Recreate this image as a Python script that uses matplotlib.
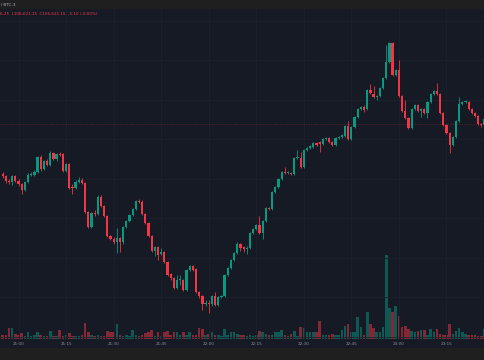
import matplotlib
matplotlib.use("Agg")
import matplotlib.pyplot as plt
import numpy as np
import pandas as pd

# 1-minute candles (USD)
opens = [106571, 106569, 106564, 106563, 106569, 106564, 106561, 106555, 106563, 106570,
         106570, 106573, 106588, 106576, 106584, 106580, 106592, 106586, 106591, 106591,
         106574, 106581, 106558, 106557, 106563, 106565, 106562, 106533, 106518, 106532,
         106531, 106548, 106539, 106529, 106509, 106506, 106503, 106507, 106503, 106518,
         106524, 106530, 106536, 106544, 106543, 106531, 106522, 106509, 106494, 106498,
         106491, 106493, 106483, 106471, 106467, 106457, 106465, 106465, 106455, 106475,
         106479, 106476, 106453, 106449, 106441, 106442, 106441, 106449, 106440, 106448,
         106449, 106470, 106477, 106485, 106492, 106501, 106498, 106496, 106497, 106512,
         106516, 106520, 106512, 106524, 106537, 106536, 106553, 106558, 106566, 106573,
         106572, 106572, 106571, 106587, 106587, 106578, 106595, 106597, 106598, 106602,
         106603, 106601, 106606, 106607, 106603, 106600, 106607, 106608, 106609, 106619,
         106606, 106618, 106628, 106636, 106638, 106636, 106655, 106651, 106648, 106649,
         106657, 106667, 106683, 106702, 106670, 106675, 106649, 106634, 106627, 106617,
         106636, 106640, 106634, 106636, 106632, 106643, 106651, 106654, 106651, 106632,
         106620, 106612, 106600, 106608, 106624, 106641, 106643, 106643, 106636, 106632,
         106629, 106621, 106620, 106626]
highs = [106573, 106570, 106566, 106570, 106570, 106566, 106562, 106564, 106572, 106573,
         106575, 106589, 106590, 106585, 106586, 106594, 106593, 106592, 106593, 106592,
         106582, 106582, 106561, 106565, 106568, 106567, 106563, 106534, 106533, 106535,
         106550, 106550, 106540, 106530, 106510, 106508, 106517, 106508, 106519, 106525,
         106531, 106537, 106545, 106546, 106545, 106532, 106523, 106510, 106499, 106499,
         106497, 106494, 106484, 106472, 106468, 106470, 106470, 106466, 106476, 106480,
         106480, 106477, 106454, 106450, 106445, 106445, 106450, 106453, 106449, 106450,
         106471, 106478, 106486, 106493, 106503, 106502, 106499, 106499, 106513, 106517,
         106521, 106529, 106525, 106538, 106538, 106554, 106559, 106567, 106574, 106578,
         106574, 106573, 106588, 106595, 106593, 106596, 106598, 106600, 106603, 106603,
         106604, 106607, 106608, 106608, 106604, 106608, 106609, 106611, 106620, 106624,
         106619, 106629, 106637, 106639, 106640, 106656, 106661, 106659, 106650, 106658,
         106668, 106700, 106703, 106703, 106676, 106685, 106650, 106645, 106628, 106637,
         106641, 106641, 106637, 106637, 106644, 106652, 106655, 106662, 106652, 106633,
         106621, 106613, 106609, 106625, 106648, 106644, 106645, 106644, 106637, 106633,
         106630, 106622, 106627, 106627]
lows = [106567, 106562, 106561, 106560, 106563, 106559, 106551, 106554, 106562, 106569,
        106569, 106572, 106574, 106575, 106579, 106579, 106585, 106584, 106589, 106573,
        106573, 106556, 106551, 106556, 106562, 106561, 106532, 106517, 106517, 106529,
        106530, 106538, 106528, 106508, 106505, 106501, 106492, 106493, 106501, 106517,
        106523, 106529, 106535, 106542, 106530, 106521, 106508, 106493, 106489, 106485,
        106490, 106482, 106469, 106465, 106456, 106456, 106460, 106454, 106454, 106474,
        106474, 106452, 106447, 106435, 106439, 106432, 106439, 106439, 106439, 106447,
        106448, 106469, 106476, 106484, 106491, 106494, 106493, 106491, 106496, 106511,
        106515, 106511, 106506, 106523, 106535, 106535, 106552, 106557, 106565, 106571,
        106571, 106570, 106570, 106586, 106577, 106577, 106594, 106596, 106597, 106599,
        106593, 106600, 106605, 106602, 106599, 106599, 106606, 106607, 106608, 106605,
        106605, 106617, 106627, 106635, 106633, 106635, 106651, 106647, 106645, 106648,
        106656, 106666, 106682, 106669, 106669, 106648, 106633, 106626, 106616, 106616,
        106635, 106633, 106628, 106631, 106627, 106642, 106650, 106650, 106631, 106619,
        106611, 106592, 106599, 106607, 106623, 106640, 106642, 106635, 106631, 106628,
        106620, 106618, 106619, 106620]
closes = [106569, 106564, 106563, 106569, 106564, 106561, 106555, 106563, 106570, 106571,
          106573, 106588, 106576, 106584, 106580, 106592, 106586, 106591, 106590, 106574,
          106581, 106557, 106557, 106563, 106565, 106562, 106533, 106518, 106532, 106531,
          106548, 106539, 106529, 106509, 106506, 106503, 106507, 106503, 106518, 106524,
          106530, 106536, 106544, 106543, 106531, 106522, 106509, 106494, 106498, 106490,
          106493, 106483, 106470, 106467, 106457, 106465, 106465, 106455, 106475, 106479,
          106475, 106453, 106449, 106441, 106442, 106441, 106449, 106440, 106448, 106449,
          106470, 106477, 106485, 106492, 106501, 106497, 106496, 106497, 106512, 106516,
          106520, 106512, 106524, 106537, 106536, 106553, 106558, 106566, 106573, 106572,
          106573, 106571, 106587, 106588, 106578, 106595, 106597, 106599, 106602, 106600,
          106601, 106606, 106607, 106603, 106600, 106607, 106608, 106610, 106619, 106606,
          106618, 106628, 106636, 106638, 106635, 106655, 106652, 106648, 106649, 106657,
          106667, 106683, 106702, 106670, 106675, 106649, 106634, 106627, 106617, 106636,
          106640, 106634, 106636, 106632, 106643, 106651, 106654, 106651, 106632, 106620,
          106612, 106600, 106608, 106624, 106641, 106643, 106644, 106636, 106632, 106629,
          106621, 106620, 106626, 106621]
volumes = [4, 4, 11, 11, 5, 4, 6, 3, 7, 3, 4, 7, 4, 3, 3, 8, 3, 3, 9, 3,
           4, 6, 3, 3, 3, 4, 16, 7, 4, 3, 4, 3, 3, 8, 7, 7, 15, 4, 3, 4,
           3, 9, 4, 3, 4, 6, 7, 9, 3, 7, 3, 7, 8, 4, 7, 7, 4, 7, 4, 7,
           4, 4, 11, 10, 4, 5, 7, 4, 4, 3, 10, 4, 7, 7, 5, 4, 4, 3, 4, 3,
           4, 8, 7, 5, 4, 4, 7, 7, 9, 4, 3, 5, 8, 3, 12, 11, 7, 7, 7, 7,
           18, 4, 4, 4, 5, 4, 4, 9, 13, 15, 7, 7, 22, 12, 4, 27, 15, 11, 7, 7,
           12, 84, 31, 27, 33, 23, 12, 13, 10, 8, 7, 8, 9, 9, 4, 10, 7, 10, 5, 4,
           4, 15, 5, 8, 11, 7, 5, 4, 4, 4, 3, 3, 10, 3]
times = pd.date_range("2024-12-16 20:55", periods=len(closes), freq="min")

o = np.array(opens); h = np.array(highs); l = np.array(lows); c = np.array(closes)
v = np.array(volumes)
x = np.arange(len(c))
up = c >= o

GREEN = "#089981"
RED = "#f23645"
BG = "#161a25"
GRID = "#1d212d"
cols = np.where(up, GREEN, RED)

fig = plt.figure(figsize=(4.85, 3.6), dpi=100, facecolor="#1f1f1f")
rect = [0, 21 / 360, 1, 330 / 360]

# volume pane underneath
axv = fig.add_axes(rect, facecolor=BG)
axv.bar(x, v, width=0.8, color=cols, alpha=0.5, linewidth=0)
axv.set_ylim(0, 330)
axv.set_yticks([])
for s in axv.spines.values():
    s.set_visible(False)

# price pane on top
ax = fig.add_axes(rect, sharex=axv)
ax.patch.set_visible(False)
ax.vlines(x, l, h, color=cols, linewidth=0.6, zorder=3)
ax.bar(x, np.maximum(np.abs(c - o), 0.8), bottom=np.minimum(o, c), width=0.7,
       color=cols, linewidth=0, zorder=4)
ax.axhline(c[-1], color=RED, linewidth=0.5, linestyle=(0, (1, 1.5)), alpha=0.45, zorder=2)

ax.set_xlim(-0.85, 152.15)
ax.set_ylim(106406, 106736)

grid_y = np.arange(106408.5, 106736, 39.5)
for gy in grid_y:
    ax.axhline(gy, color=GRID, linewidth=0.6, zorder=0)
tick_idx = x[times.minute % 15 == 0]
for tx in tick_idx:
    ax.axvline(tx, color=GRID, linewidth=0.6, zorder=0)

ax.set_xticks(tick_idx)
ax.set_xticklabels(times[tick_idx].strftime("%H:%M"))
ax.tick_params(axis="x", length=0, pad=2, labelsize=3, labelcolor="#8c8f99")
axv.tick_params(axis="x", length=0, labelbottom=False)
ax.set_yticks([])
for s in ax.spines.values():
    s.set_visible(False)

# strip behind the time labels
fig.patches.append(plt.Rectangle((0, 12 / 360), 1, 9 / 360, transform=fig.transFigure,
                                 facecolor=BG, edgecolor="none", zorder=-1))

fig.text(0.002, 1 - 4.5 / 360, "I BTC-3", color="#b0b3ba", fontsize=3, va="center")
fig.text(0.0, 1 - 14 / 360, "6.25  L106,621.15  C106,621.15  -5.10 (-0.00%)",
         color=RED, fontsize=3, va="center")

fig.savefig("out.png", dpi=100, facecolor=fig.get_facecolor())
